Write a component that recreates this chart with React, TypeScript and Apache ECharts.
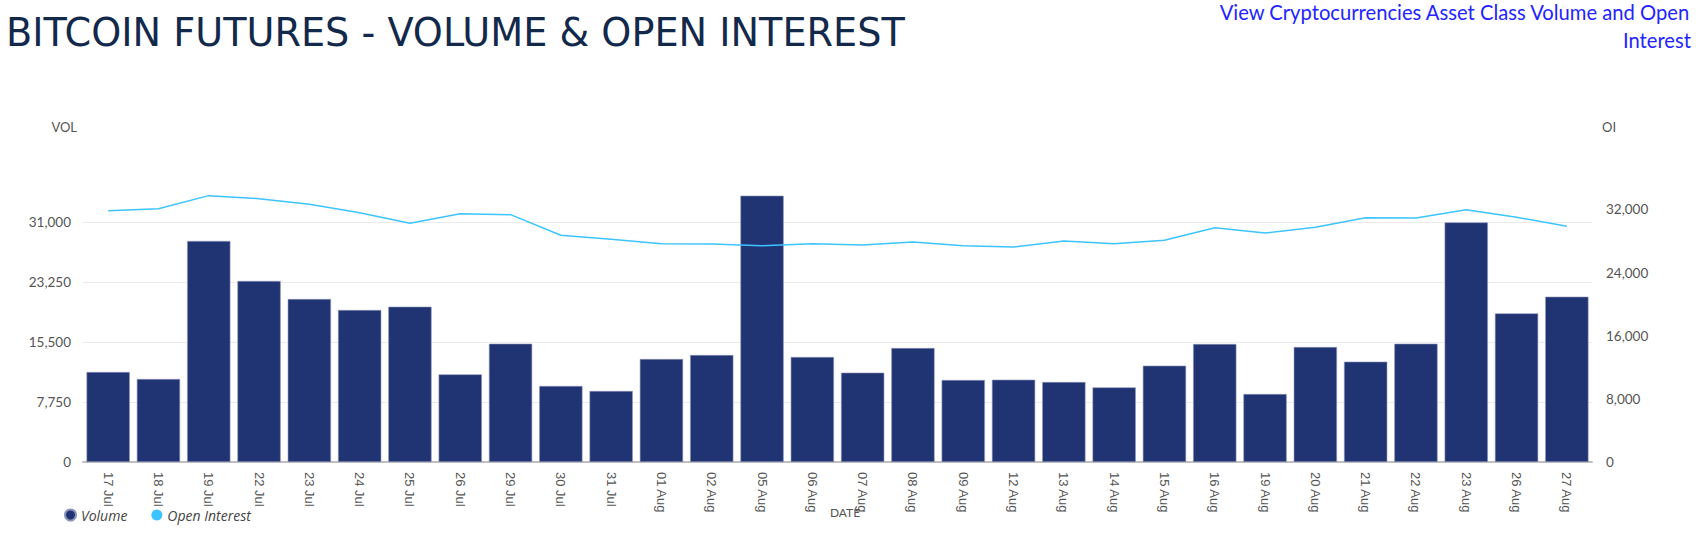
import React, { useEffect, useRef } from "react";
import * as echarts from "echarts";

const categories = [
  "17 Jul", "18 Jul", "19 Jul", "22 Jul", "23 Jul", "24 Jul", "25 Jul", "26 Jul", "29 Jul", "30 Jul",
  "31 Jul", "01 Aug", "02 Aug", "05 Aug", "06 Aug", "07 Aug", "08 Aug", "09 Aug", "12 Aug", "13 Aug",
  "14 Aug", "15 Aug", "16 Aug", "19 Aug", "20 Aug", "21 Aug", "22 Aug", "23 Aug", "26 Aug", "27 Aug",
];

const volume = [
  11625, 10720, 28550, 23380, 21050, 19630, 20060, 11320, 15280, 9820,
  9170, 13300, 13820, 34400, 13560, 11540, 14720, 10590, 10630, 10330,
  9640, 12440, 15240, 8780, 14850, 12960, 15280, 30950, 19200, 21350,
];

const openInterest = [
  31840, 32090, 33740, 33360, 32640, 31580, 30240, 31450, 31330, 28720,
  28210, 27650, 27620, 27400, 27650, 27490, 27870, 27400, 27230, 27990,
  27650, 28080, 29680, 29010, 29730, 30950, 30910, 31940, 31000, 29860,
];

// tick steps and top of each value axis (top value is not labelled)
const volTicks = [0, 7750, 15500, 23250, 31000, 38750];
const oiTicks = [0, 8000, 16000, 24000, 32000, 38000];

const titleText = "BITCOIN FUTURES - VOLUME & OPEN INTEREST";
const linkLines = ["View Cryptocurrencies Asset Class Volume and Open", "Interest"];

const LATO = "Lato, 'Open Sans', sans-serif";
const OPEN = "'Open Sans', Lato, sans-serif";
const ARIAL = "'Liberation Sans', Arial, sans-serif";
const DEJAVU = "'DejaVu Sans', 'Open Sans', sans-serif";

export default function App() {
  const ref = useRef<HTMLDivElement>(null);

  useEffect(() => {
    if (!ref.current) return;
    const chart = echarts.init(ref.current, null, { renderer: "svg" });
    const fmt = (v: number) => v.toLocaleString("en-US");
    const gridColors = volTicks.map((_, i) => (i === volTicks.length - 1 ? "rgba(0,0,0,0)" : "#ebebeb"));
    chart.setOption({
      animation: false,
      backgroundColor: "#ffffff",
      textStyle: { fontFamily: LATO },
      title: {
        text: titleText,
        left: 1,
        top: 8.5,
        textStyle: { fontFamily: DEJAVU, fontSize: 38.2, fontWeight: 400, color: "#13294b" },
      },
      graphic: [
        {
          type: "text",
          right: 13,
          top: 1.5,
          style: { text: linkLines[0], font: `20.2px ${LATO}`, fill: "#2424ff" },
        },
        {
          type: "text",
          right: 13,
          top: 29.5,
          style: { text: linkLines[1], font: `20.2px ${LATO}`, fill: "#2424ff" },
        },
        {
          type: "text",
          right: 1704 - 77,
          top: 120,
          style: { text: "VOL", font: `13px ${LATO}`, fill: "#555" },
        },
        {
          type: "text",
          left: 1602,
          top: 120,
          style: { text: "OI", font: `13px ${LATO}`, fill: "#555" },
        },
      ],
      legend: {
        left: 59,
        top: 503,
        itemWidth: 11,
        itemHeight: 11,
        itemGap: 24,
        icon: "circle",
        textStyle: { fontFamily: OPEN, fontSize: 14, fontStyle: "italic", color: "#444" },
        data: ["Volume", "Open Interest"],
      },
      grid: { left: 83, right: 112, top: 162, height: 300 },
      xAxis: {
        type: "category",
        data: categories,
        name: "DATE",
        nameLocation: "middle",
        nameGap: 44,
        nameMoveOverlap: false,
        nameTextStyle: { fontFamily: LATO, fontSize: 12, color: "#555", padding: [0, 0, 0, 15] },
        axisLine: { lineStyle: { color: "#c0c0c0", width: 2 } },
        axisTick: { show: false },
        axisLabel: { rotate: -90, margin: 10, fontSize: 13, color: "#555", fontFamily: ARIAL },
      },
      yAxis: [
        {
          type: "value",
          min: volTicks[0],
          max: volTicks[volTicks.length - 1],
          interval: volTicks[1] - volTicks[0],
          axisLine: { show: false },
          axisTick: { show: false },
          splitLine: { lineStyle: { color: gridColors, width: 1 } },
          axisLabel: {
            showMaxLabel: false,
            margin: 12,
            fontSize: 13.5,
            color: "#555",
            fontFamily: LATO,
            formatter: fmt,
          },
        },
        {
          type: "value",
          min: oiTicks[0],
          max: oiTicks[oiTicks.length - 1],
          interval: oiTicks[1] - oiTicks[0],
          axisLine: { show: false },
          axisTick: { show: false },
          splitLine: { show: false },
          axisLabel: {
            showMaxLabel: false,
            margin: 14,
            fontSize: 13.5,
            color: "#555",
            fontFamily: LATO,
            formatter: fmt,
          },
        },
      ],
      series: [
        {
          name: "Volume",
          type: "bar",
          data: volume,
          yAxisIndex: 0,
          barCategoryGap: "14%",
          itemStyle: { color: "#203372", borderColor: "#8e96b8", borderWidth: 0.6 },
        },
        {
          name: "Open Interest",
          type: "line",
          data: openInterest,
          yAxisIndex: 1,
          showSymbol: false,
          symbol: "circle",
          itemStyle: { color: "#3dc4ff" },
          lineStyle: { color: "#3dc4ff", width: 1.5 },
        },
      ],
    });
    return () => chart.dispose();
  }, []);

  return (
    <div
      ref={ref}
      style={{ position: "fixed", left: 0, top: 0, width: 1704, height: 538 }}
    />
  );
}
